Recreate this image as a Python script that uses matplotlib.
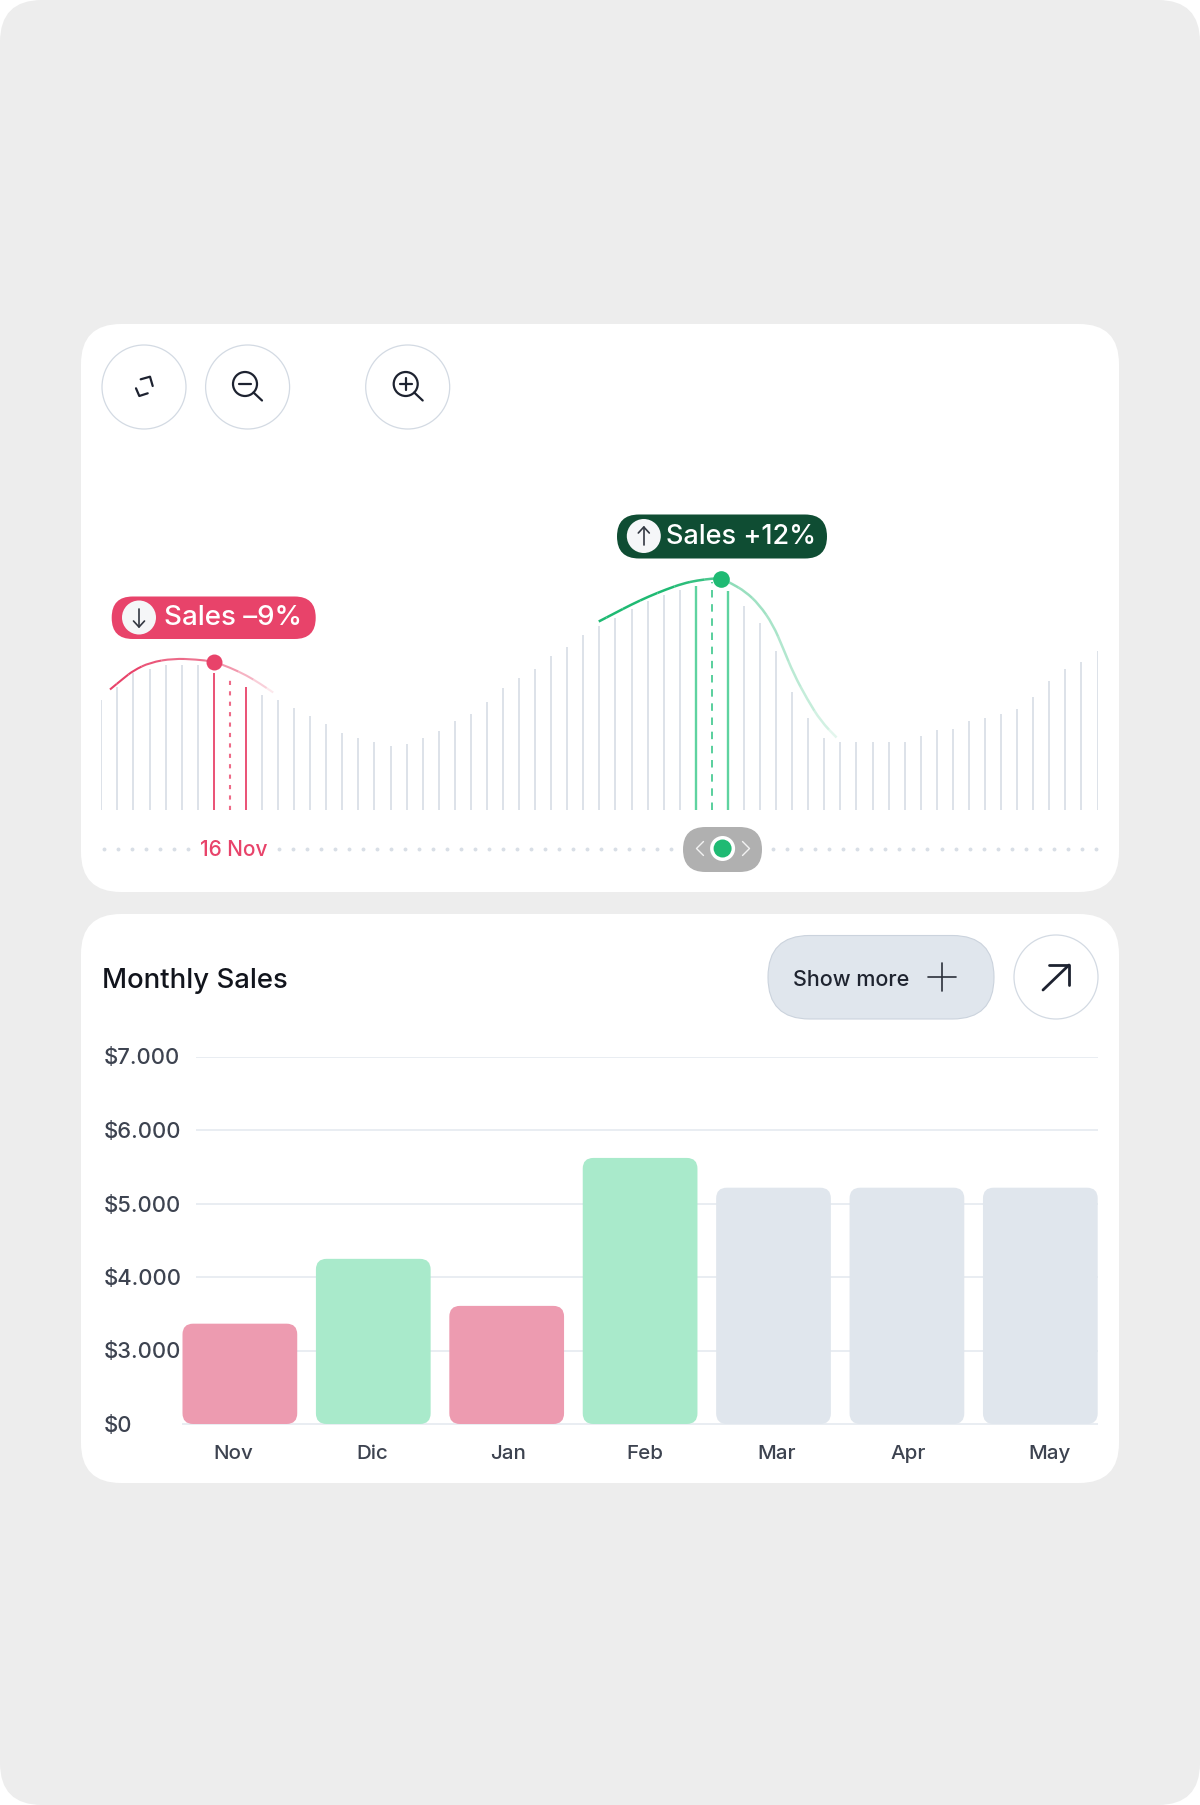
import matplotlib
matplotlib.use("Agg")
import matplotlib.pyplot as plt
import numpy as np
from matplotlib.colors import to_rgba
from matplotlib.patches import Circle, FancyBboxPatch, PathPatch
from matplotlib.path import Path

W, H = 1200, 1805
FONT = "Inter"

# top chart: height of every stem
stem_heights = [110, 123, 137, 141, 145, 145, 145, 137, 132, 123, 115, 110, 102, 94, 86, 77, 72, 68, 64, 66, 72,
                79, 89, 96, 108, 122, 132, 141, 154, 163, 175, 184, 192, 201, 209, 215, 220, 224, 228, 219, 204,
                187, 159, 118, 92, 72, 68, 68, 68, 68, 68, 74, 80, 81, 89, 92, 96, 101, 113, 129, 141, 148, 159]
red_stems = [7, 9]
red_dashed = 8
green_stems = [37, 39]
green_dashed = 38

# highlighted curves (stem index, height)
red_curve_x = [0.54, 1.37, 2.0, 3.03, 4.48, 5.93, 6.97, 8.0, 9.05, 9.87, 10.7]
red_curve_y = [120, 131, 139, 147, 151, 150, 148, 142, 134, 126, 117]
red_curve_alpha = [1, 1, 1, .9, .8, .75, .7, .55, .4, .25, .12]
green_curve_x = [30.96, 31.92, 33.0, 34.07, 35.14, 36.2, 37.07, 38.04, 38.58, 39.22, 40.08, 40.94, 41.8, 42.44,
                 43.08, 43.94, 44.8, 45.76]
green_curve_y = [188, 196, 205, 213, 220, 226, 229, 231, 231, 226, 218, 205, 185, 161, 136, 110, 88, 72]
green_curve_alpha = [1, 1, 1, 1, 1, .95, .9, .8, .6, .5, .45, .42, .38, .34, .3, .26, .2, .12]
red_point = (7, 148)
green_point = (38.58, 231)

# bottom chart
months = ["Nov", "Dic", "Jan", "Feb", "Mar", "Apr", "May"]
sales = [3365, 4247, 3607, 5620, 5215, 5215, 5215]
bar_colors = ["#ED9BB0", "#A9EACB", "#ED9BB0", "#A9EACB", "#E0E6ED", "#E0E6ED", "#E0E6ED"]
month_shift = [-0.048, -0.008, 0.011, 0.034, 0.022, 0.011, 0.067]
tick_values = [0, 3000, 4000, 5000, 6000, 7000]
tick_labels = ["$0", "$3.000", "$4.000", "$5.000", "$6.000", "$7.000"]

RED = "#E8436A"
GREEN = "#1FBA73"
STEM = "#D8DEE6"
BORDER = "#D3DAE3"
DARK = "#1D2230"

plt.rcParams["font.family"] = [FONT, "DejaVu Sans"]
fig = plt.figure(figsize=(W / 100, H / 100), dpi=100)
fig.patch.set_facecolor("white")


def axes_px(left, top, right, bottom, **kw):
    return fig.add_axes([left / W, 1 - bottom / H, (right - left) / W, (bottom - top) / H], **kw)


# page layer in pixel coordinates
page = axes_px(0, 0, W, H)
page.set_xlim(0, W)
page.set_ylim(H, 0)
page.axis("off")


def round_box(x0, y0, x1, y1, r, fc, ec="none", lw=0, z=1):
    page.add_patch(FancyBboxPatch((x0, y0), x1 - x0, y1 - y0, boxstyle=f"round,pad=0,rounding_size={r}",
                                  fc=fc, ec=ec, lw=lw, zorder=z))


def stroke(xs, ys, color=DARK, lw=1.6, z=6):
    page.plot(xs, ys, color=color, lw=lw, solid_capstyle="round", solid_joinstyle="round", zorder=z)


round_box(0, 0, W, H, 42, "#EDEDED")
round_box(81, 324, 1119, 892, 40, "white")
round_box(81, 914, 1119, 1483, 40, "white")

# zoom buttons
for cx in [144, 247.6, 407.7]:
    page.add_patch(Circle((cx, 387), 42, fc="white", ec=BORDER, lw=0.9, zorder=2))
stroke([140.7, 150, 152.7], [379.3, 376.7, 386])
stroke([136, 139.3, 147.7], [388.3, 396, 393.3])
for cx in [245, 405.7]:
    page.add_patch(Circle((cx, 384), 12, fc="none", ec=DARK, lw=1.6, zorder=6))
    stroke([cx + 8.5, cx + 17], [392.5, 400.5])
    stroke([cx - 6, cx + 6], [384, 384])
stroke([405.7, 405.7], [378, 390])

# tags
round_box(111.7, 596.5, 315.7, 639, 21, RED, z=3)
page.add_patch(Circle((139, 617.5), 17, fc="#F5F6F8", zorder=4))
stroke([139, 139], [609, 627], "#333842", 1.2)
stroke([133.5, 139, 144.5], [621, 627, 621], "#333842", 1.2)
page.text(164, 618, "Sales \u20139%", color="white", fontsize=20, weight=500, va="center", ha="left", zorder=5)

round_box(617, 514.5, 827, 558.5, 22, "#0F4D33", z=3)
page.add_patch(Circle((643.8, 536), 17, fc="#F5F6F8", zorder=4))
stroke([643.8, 643.8], [527, 545], "#333842", 1.2)
stroke([638.3, 643.8, 649.3], [533, 527, 533], "#333842", 1.2)
page.text(666.5, 536.5, "Sales +12%", color="white", fontsize=19.5, weight=500, va="center", ha="left", zorder=5)

# timeline
for start, stop, n in [(104, 188, 7), (279, 671, 29), (773, 1096, 24)]:
    page.plot(np.linspace(start, stop, n), [848.5] * n, "o", ms=2.8, color=STEM, mew=0, zorder=2)
page.text(234, 849.5, "16 Nov", color=RED, fontsize=15, weight=500, va="center", ha="center", zorder=3)
round_box(683, 827, 762, 872, 22.5, "#B0B0B0", z=3)
page.add_patch(Circle((722.6, 848.5), 12.5, fc="white", zorder=4))
page.add_patch(Circle((722.6, 848.5), 9, fc=GREEN, zorder=5))
stroke([703.5, 696.5, 703.5], [841.5, 848.5, 855.5], "#F2F2F2", 1.0)
stroke([742.5, 749.5, 742.5], [841.5, 848.5, 855.5], "#F2F2F2", 1.0)

# header of the bottom card
page.text(102.5, 980.5, "Monthly Sales", color="#11141C", fontsize=19.8, weight=500, va="center", ha="left", zorder=3)
round_box(768, 935.5, 994, 1019, 41.5, "#E0E6ED", ec="#CBD3DD", lw=0.8)
page.text(793, 979.5, "Show more", color="#1F2430", fontsize=15.5, weight=500, va="center", ha="left", zorder=3)
stroke([928, 956], [977, 977], "#2B303B", 1.2)
stroke([942, 942], [963, 991], "#2B303B", 1.2)
page.add_patch(Circle((1056, 977), 42, fc="white", ec=BORDER, lw=0.9, zorder=2))
stroke([1043, 1069], [990, 965], DARK, 2.0)
stroke([1049, 1069, 1069], [965, 965, 985], DARK, 2.0)

# stems
ax = axes_px(101.3, 509.5, 1097.5, 809.5)
ax.patch.set_alpha(0)
ax.set_xlim(0, 62)
ax.set_ylim(0, 300)
ax.axis("off")
stem_x = np.arange(len(stem_heights))
stem_h = np.array(stem_heights)
special = red_stems + green_stems + [red_dashed, green_dashed]
plain = np.array([i for i in stem_x if i not in special])
ax.vlines(plain, 0, stem_h[plain], color=STEM, lw=1.25)
ax.vlines(red_stems, 0, stem_h[red_stems], color=RED, lw=1.3)
ax.vlines(red_dashed, 0, stem_h[red_dashed], color="#EE6A88", lw=1.5, linestyles=(0, (2, 3)))
ax.vlines(green_stems, 0, stem_h[green_stems], color="#5FD3A0", lw=1.7)
ax.vlines(green_dashed, 0, stem_h[green_dashed], color="#3CC78B", lw=1.2, linestyles=(0, (4.5, 4)))


def fading_curve(xs, ys, alphas, color, lw):
    # one quadratic piece per read point, running between the midpoints around it
    pts = np.column_stack([xs, ys])
    mids = (pts[:-1] + pts[1:]) / 2
    ax.add_patch(PathPatch(Path([pts[0], mids[0]]), fc="none", ec=to_rgba(color, alphas[0]), lw=lw, zorder=3))
    for i in range(1, len(pts) - 1):
        piece = Path([mids[i - 1], pts[i], mids[i]], [Path.MOVETO, Path.CURVE3, Path.CURVE3])
        ax.add_patch(PathPatch(piece, fc="none", ec=to_rgba(color, alphas[i]), lw=lw, zorder=3))
    ax.add_patch(PathPatch(Path([mids[-1], pts[-1]]), fc="none", ec=to_rgba(color, alphas[-1]), lw=lw, zorder=3))


fading_curve(red_curve_x, red_curve_y, red_curve_alpha, RED, 1.5)
fading_curve(green_curve_x, green_curve_y, green_curve_alpha, GREEN, 1.8)
ax.plot(*red_point, "o", ms=11.5, color=RED, mew=0, zorder=4)
ax.plot(*green_point, "o", ms=12, color=GREEN, mew=0, zorder=4)

# bars
bx = axes_px(182.5, 1056.5, 1097.7, 1424)
bx.patch.set_alpha(0)
bx.set_xlim(-0.43, 6.43)
bx.set_ylim(0, 5)
for side in bx.spines.values():
    side.set_visible(False)
tick_pos = np.arange(len(tick_values))
bx.hlines(tick_pos[1:], -0.33, 6.43, color="#E3E8EF", lw=1.1, zorder=1)
bx.hlines(0, -0.43, 6.43, color="#E3E8EF", lw=1.1, zorder=1, clip_on=False)
bar_h = np.interp(sales, tick_values, tick_pos)
# x unit is 133.4 px, y unit is 73.5 px
aspect = 133.4 / 73.5
for i, (h, c) in enumerate(zip(bar_h, bar_colors)):
    bx.add_patch(FancyBboxPatch((i - 0.43, 0), 0.86, h, boxstyle="round,pad=0,rounding_size=0.08",
                                mutation_aspect=aspect, fc=c, ec="none", zorder=2, clip_on=False))
bx.set_yticks(tick_pos, tick_labels, fontsize=15.8, weight=500, color="#3D4350")
bx.set_xticks(np.arange(len(months)) + np.array(month_shift), months, fontsize=14.8, weight=500, color="#3D4350")
bx.tick_params(axis="y", length=0, pad=57)
bx.tick_params(axis="x", length=0, pad=15)
for lab in bx.get_yticklabels():
    lab.set_horizontalalignment("left")

fig.savefig("out.png", dpi=100)
